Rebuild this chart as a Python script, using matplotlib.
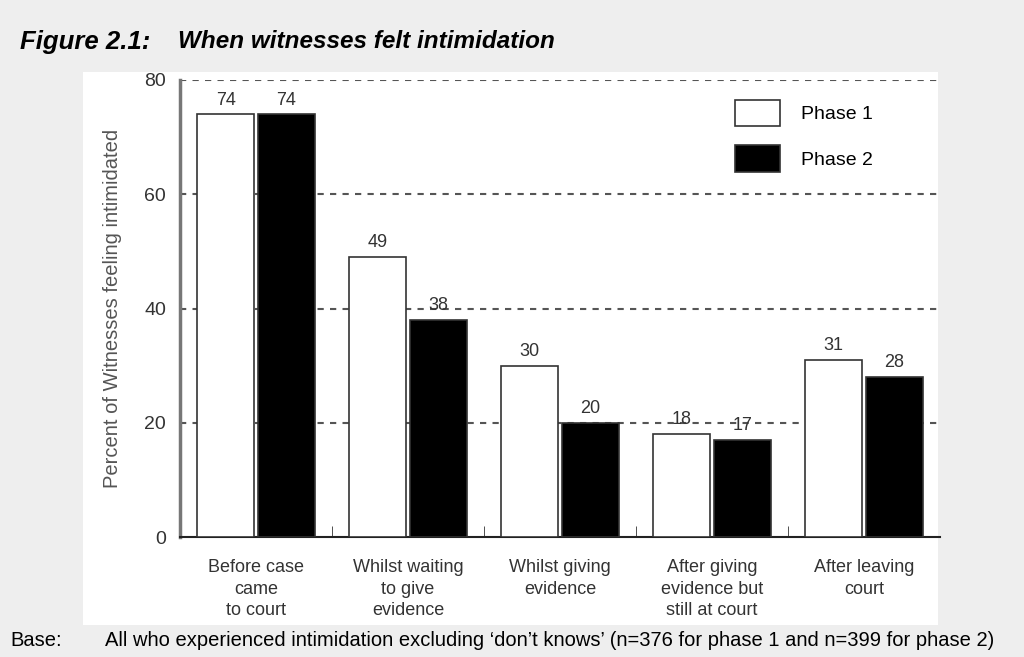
import matplotlib.pyplot as plt
import matplotlib.patches as mpatches
import numpy as np

categories = ['Before case\ncame\nto court', 'Whilst waiting\nto give\nevidence',
              'Whilst giving\nevidence', 'After giving\nevidence but\nstill at court',
              'After leaving\ncourt']
phase1 = [74, 49, 30, 18, 31]
phase2 = [74, 38, 20, 17, 28]
yticks = [0, 20, 40, 60, 80]

plt.rcParams['font.family'] = ['Liberation Sans', 'DejaVu Sans']

fig = plt.figure(figsize=(10.24, 6.57), dpi=100)
fig.patch.set_facecolor('#eeeeee')

# white panel behind the chart
fig.add_artist(mpatches.Rectangle((83 / 1024, 1 - 625 / 657), (938 - 83) / 1024, (625 - 72) / 657,
                                  transform=fig.transFigure, facecolor='white', edgecolor='none', zorder=0))

ax = fig.add_axes([180 / 1024, 1 - 537 / 657, (940 - 180) / 1024, (537 - 80) / 657])
ax.set_facecolor('none')

x = np.arange(len(categories))
w = 0.375
off = 0.2
b1 = ax.bar(x - off, phase1, w, color='white', edgecolor='#333333', linewidth=1.2, zorder=3, label='Phase 1')
b2 = ax.bar(x + off, phase2, w, color='black', edgecolor='#333333', linewidth=1.2, zorder=3, label='Phase 2')

for rect, v in zip(list(b1) + list(b2), phase1 + phase2):
    ax.text(rect.get_x() + rect.get_width() / 2, v + 1.0, str(v), ha='center', va='bottom',
            fontsize=13, color='#333333', zorder=4)

ax.set_xlim(-0.5, 4.5)
ax.set_ylim(0, 80)
ax.set_yticks(yticks)
ax.set_yticklabels([str(t) for t in yticks], fontsize=14, color='#333333')
for t in yticks[1:]:
    ax.axhline(t, color='#555555', linestyle=(0, (3, 3)), linewidth=1.5, zorder=1)

ax.set_xticks(x)
ax.set_xticklabels(categories, fontsize=13, color='#333333', linespacing=1.35)
ax.tick_params(axis='x', length=0, pad=16)
ax.tick_params(axis='y', length=0, pad=10)
ax.set_xticks(np.arange(0.5, 4.5, 1), minor=True)
ax.tick_params(axis='x', which='minor', direction='in', length=8, color='#333333')

for s in ['top', 'right']:
    ax.spines[s].set_visible(False)
ax.spines['left'].set_color('#777777')
ax.spines['left'].set_linewidth(2.5)
ax.spines['bottom'].set_color('#222222')
ax.spines['bottom'].set_linewidth(1.5)

ax.set_ylabel('Percent of Witnesses feeling intimidated', fontsize=14.5, color='#555555', labelpad=16)

ax.legend(loc='upper right', bbox_to_anchor=(0.935, 0.995), frameon=False, fontsize=14,
          handlelength=2.3, handleheight=1.7, labelspacing=1.0, handletextpad=1.1)

fig.text(20 / 1024, 1 - 42 / 657, 'Figure 2.1:', fontsize=18.5, fontweight='bold', fontstyle='italic',
         va='center', ha='left')
fig.text(178 / 1024, 1 - 42 / 657, 'When witnesses felt intimidation', fontsize=17.5, fontweight='bold',
         fontstyle='italic', va='center', ha='left')
fig.text(10 / 1024, 1 - 641 / 657, 'Base:', fontsize=14.5, va='center', ha='left')
fig.text(105 / 1024, 1 - 641 / 657,
         'All who experienced intimidation excluding \u2018don\u2019t knows\u2019 (n=376 for phase 1 and n=399 for phase 2)',
         fontsize=14.5, va='center', ha='left')

fig.savefig('out.png', dpi=100, facecolor=fig.get_facecolor())
